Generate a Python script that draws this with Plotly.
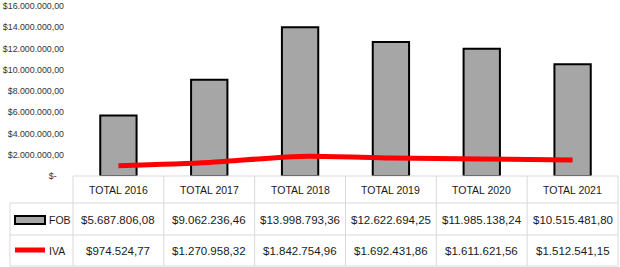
import plotly.graph_objects as go

categories = ["TOTAL 2016", "TOTAL 2017", "TOTAL 2018", "TOTAL 2019", "TOTAL 2020", "TOTAL 2021"]
fob = [5687806.08, 9062236.46, 13998793.36, 12622694.25, 11985138.24, 10515481.80]
iva = [974524.77, 1270958.32, 1842754.96, 1692431.86, 1611621.56, 1512541.15]
tick_vals = [0, 2e6, 4e6, 6e6, 8e6, 10e6, 12e6, 14e6, 16e6]


def money(v):
    if v == 0:
        return "$-\u00a0\u00a0\u00a0"
    s = f"{v:,.2f}"
    s = s.replace(",", "X").replace(".", ",").replace("X", ".")
    return "$" + s


W, H = 620, 267
L, R, T, B = 73, 2, 6, 91
PW = W - L - R
PH = H - T - B


def px(p):
    return (p - L) / PW


def py(p):
    return (H - B - p) / PH


FONT = "Liberation Sans, Arial, sans-serif"
GRID = "#d9d9d9"
TXT = "#1a1a1a"

fig = go.Figure()
fig.add_trace(go.Bar(x=categories, y=fob, name="FOB", width=0.4,
                     marker=dict(color="#a6a6a6", line=dict(color="black", width=2))))
fig.add_trace(go.Scatter(x=categories, y=iva, name="IVA", mode="lines",
                         line=dict(color="#ff0000", width=5, shape="spline", smoothing=0.8)))

shapes = []
annotations = []
row_y = [176, 203, 235, 266]
col_x = [px(L + i * PW / 6) for i in range(7)]
left_x = px(10)
shapes.append(dict(type="line", xref="paper", yref="paper", x0=0, x1=1, y0=py(row_y[0]), y1=py(row_y[0]),
                   line=dict(color=GRID, width=1)))
for yy in row_y[1:]:
    shapes.append(dict(type="line", xref="paper", yref="paper", x0=left_x, x1=1, y0=py(yy), y1=py(yy),
                       line=dict(color=GRID, width=1)))
for xx in col_x:
    shapes.append(dict(type="line", xref="paper", yref="paper", x0=xx, x1=xx, y0=py(row_y[0]), y1=py(row_y[3]),
                       line=dict(color=GRID, width=1)))
shapes.append(dict(type="line", xref="paper", yref="paper", x0=left_x, x1=left_x, y0=py(row_y[1]), y1=py(row_y[3]),
                   line=dict(color=GRID, width=1)))

shapes.append(dict(type="rect", xref="paper", yref="paper", x0=px(15), x1=px(45), y0=py(224), y1=py(216),
                   fillcolor="#a6a6a6", line=dict(color="black", width=2)))
shapes.append(dict(type="line", xref="paper", yref="paper", x0=px(15), x1=px(45), y0=py(250), y1=py(250),
                   line=dict(color="#ff0000", width=5)))
annotations.append(dict(text="FOB", xref="paper", yref="paper", x=px(47), y=py(219.5), xanchor="left",
                        yanchor="middle", showarrow=False, font=dict(family=FONT, size=10.5, color=TXT)))
annotations.append(dict(text="IVA", xref="paper", yref="paper", x=px(47), y=py(250.5), xanchor="left",
                        yanchor="middle", showarrow=False, font=dict(family=FONT, size=10.5, color=TXT)))

for i, c in enumerate(categories):
    annotations.append(dict(text=c, xref="x", yref="paper", x=c, y=py(190), xanchor="center", yanchor="middle",
                            showarrow=False, font=dict(family=FONT, size=10.5, color=TXT)))
    annotations.append(dict(text=money(fob[i]), xref="x", yref="paper", x=c, y=py(219.5), xanchor="center",
                            yanchor="middle", showarrow=False, font=dict(family=FONT, size=11.5, color=TXT)))
    annotations.append(dict(text=money(iva[i]), xref="x", yref="paper", x=c, y=py(250.5), xanchor="center",
                            yanchor="middle", showarrow=False, font=dict(family=FONT, size=11.5, color=TXT)))

fig.update_layout(
    width=W, height=H,
    margin=dict(l=L, r=R, t=T, b=B, autoexpand=False),
    paper_bgcolor="white", plot_bgcolor="white",
    showlegend=False,
    shapes=shapes, annotations=annotations,
    xaxis=dict(type="category", range=[-0.5, 5.5], showticklabels=False, showgrid=False,
               showline=False, zeroline=False, ticks="", automargin=False),
    yaxis=dict(range=[0, 16e6], tickvals=tick_vals, ticktext=[money(v) for v in tick_vals],
               showgrid=False, zeroline=False, showline=False, ticks="", automargin=False,
               ticklabelstandoff=8,
               tickfont=dict(family=FONT, size=8.8, color="#333333")),
)

fig.write_html("out.html", config={"displayModeBar": False},
               post_script="document.body.style.margin='0';document.body.style.overflow='hidden';")
